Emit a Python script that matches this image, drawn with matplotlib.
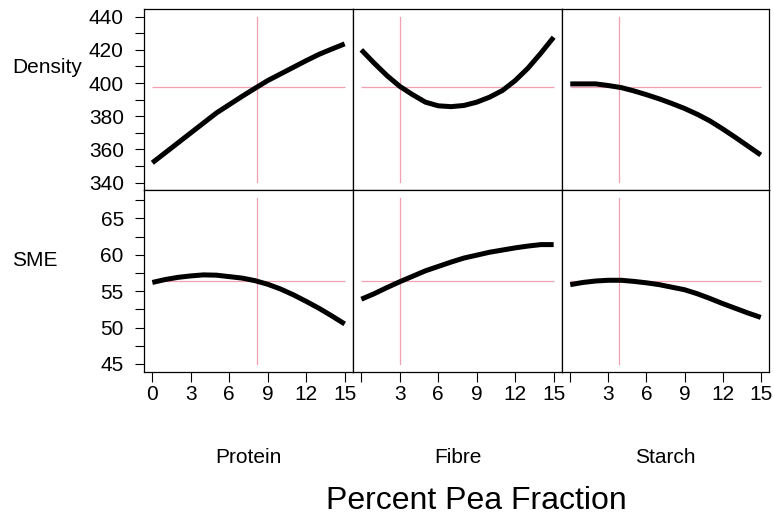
import matplotlib
matplotlib.use("Agg")
import matplotlib.pyplot as plt
import numpy as np

plt.rcParams['font.family'] = ['Liberation Sans', 'DejaVu Sans']

# ---- data ----
factors = ["Protein", "Fibre", "Starch"]
responses = ["Density", "SME"]
x_vals = list(range(0, 16))

density_protein = [352, 358, 364, 370, 376, 382, 387, 392, 396.8, 401.5, 405.5, 409.5, 413.5, 417.3, 420.5, 423.6]
density_fibre = [420, 412, 404.5, 398, 393, 388.5, 386.3, 385.8, 386.5, 388.5, 391.5, 395.5, 401.5, 409, 418, 427.6]
density_starch = [399.5, 399.5, 399.5, 398.5, 397.3, 395.3, 393, 390.5, 387.7, 384.7, 381.2, 377.2, 372.4, 367.3, 362, 356.7]

sme_protein = [56.2, 56.6, 56.9, 57.1, 57.24, 57.2, 57.0, 56.8, 56.45, 55.95, 55.3, 54.5, 53.6, 52.65, 51.6, 50.5]
sme_fibre = [53.9, 54.65, 55.5, 56.3, 57.05, 57.8, 58.4, 59.0, 59.55, 59.95, 60.35, 60.65, 60.95, 61.2, 61.4, 61.4]
sme_starch = [55.9, 56.2, 56.4, 56.5, 56.5, 56.35, 56.15, 55.9, 55.55, 55.2, 54.65, 54.0, 53.3, 52.65, 52.0, 51.4]

curves = [[density_protein, density_fibre, density_starch],
          [sme_protein, sme_fibre, sme_starch]]

current_x = [8.125, 3.0, 3.875]
current_y = [397.7, 56.38]

x_ticks = [0, 3, 6, 9, 12, 15]
y_major = [[340, 360, 380, 400, 420, 440], [45, 50, 55, 60, 65]]
y_minor = [[350, 370, 390, 410, 430], [47.5, 52.5, 57.5, 62.5, 67.5]]
y_lims = [(335.6, 444.6), (43.9, 68.9)]
x_lim = (-0.65, 15.65)

# ---- layout ----
W, H = 774, 517
fig = plt.figure(figsize=(W / 100, H / 100), dpi=100)

col_edges = [144, 353, 562, 769]
row_edges = [9, 190, 372]
ref_color = '#f0a0b2'

for r in range(2):
    for c in range(3):
        x0, x1 = col_edges[c], col_edges[c + 1]
        y0, y1 = row_edges[r], row_edges[r + 1]
        ax = fig.add_axes([x0 / W, 1 - y1 / H, (x1 - x0) / W, (y1 - y0) / H])
        ax.set_xlim(*x_lim)
        ax.set_ylim(*y_lims[r])
        # reference lines
        hpx = y1 - y0
        ax.axvline(current_x[c], ymin=8 / hpx, ymax=1 - 8 / hpx, color=ref_color,
                   lw=0.9, zorder=1)
        ax.hlines(current_y[r], 0, 15, color=ref_color, lw=0.9, zorder=1)
        ax.plot(x_vals, curves[r][c], color='black', lw=3.6, solid_capstyle='butt',
                solid_joinstyle='round', zorder=3)
        for s in ax.spines.values():
            s.set_linewidth(0.9)
            s.set_color('black')
        # y axis
        if c == 0:
            ax.set_yticks(y_major[r])
            ax.set_yticks(y_minor[r], minor=True)
            ax.tick_params(axis='y', which='both', length=6.5, width=0.8, labelsize=15,
                           pad=8, direction='out')
        else:
            ax.set_yticks([])
            ax.set_yticks([], minor=True)
        # x axis
        if r == 1:
            ax.set_xticks(x_ticks)
            labels = [str(t) for t in x_ticks]
            if c > 0:
                labels[0] = ''
            ax.set_xticklabels(labels)
            ax.tick_params(axis='x', which='both', length=7, width=0.8, labelsize=15,
                           pad=2.5, direction='out')
        else:
            ax.set_xticks([])

# row labels
fig.text(12 / W, 1 - 73 / H, "Density", fontsize=15, ha='left', va='baseline')
fig.text(12 / W, 1 - 266 / H, "SME", fontsize=15, ha='left', va='baseline')

# column labels
for c, name in enumerate(factors):
    cx = (col_edges[c] + col_edges[c + 1]) / 2
    fig.text(cx / W, 1 - 463 / H, name, fontsize=15, ha='center', va='baseline')

fig.text(476 / W, 1 - 509 / H, "Percent Pea Fraction", fontsize=23, ha='center', va='baseline')

fig.savefig("out.png", dpi=100)
